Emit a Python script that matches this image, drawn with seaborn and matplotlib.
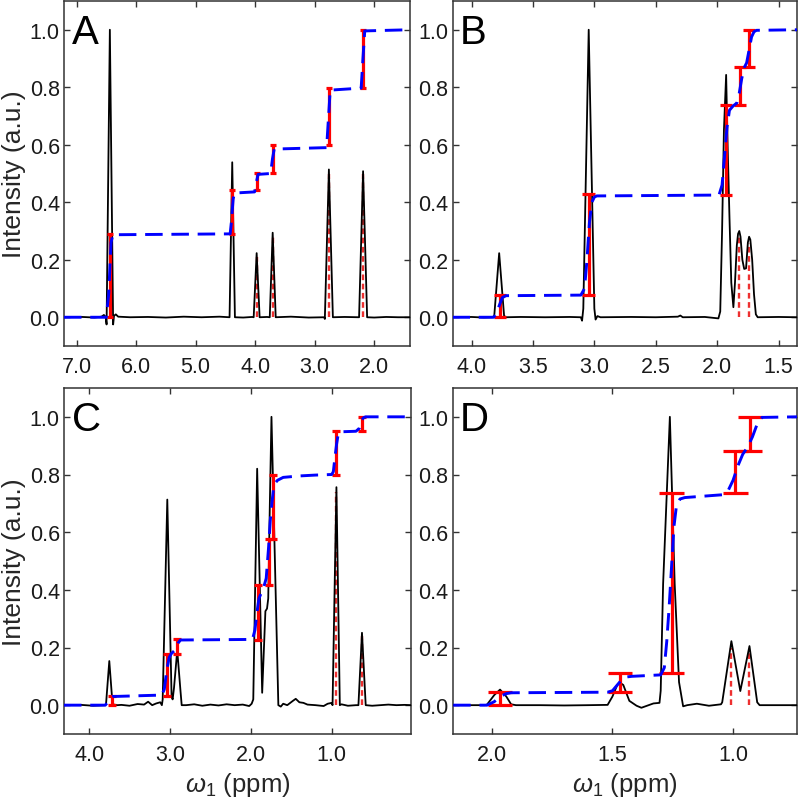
import matplotlib
matplotlib.use('Agg')
import matplotlib.pyplot as plt
from matplotlib.ticker import FormatStrFormatter
import seaborn as sns

# ==============================================================================
# Data (ppm, normalised intensity)
# ==============================================================================
# --- Panel A ---
a_spec_x = [7.21, 6.90, 6.70, 6.58, 6.54, 6.51, 6.495, 6.44, 6.385, 6.37, 6.34, 6.30, 6.10, 5.80,
            5.50, 5.20, 4.90, 4.60, 4.43, 4.385, 4.34, 4.20, 4.05, 4.025, 3.975, 3.925, 3.80, 3.755,
            3.706, 3.655, 3.40, 3.10, 2.84, 2.83, 2.762, 2.695, 2.50, 2.255, 2.188, 2.12, 2.00,
            1.80, 1.60, 1.40]
a_spec_y = [0.0, 0.001, -0.001, 0.002, 0.008, 0.0, -0.025, 1.0, -0.025, 0.005, 0.01, 0.002, 0.0,
            0.001, -0.001, 0.002, 0.0, 0.002, 0.0, 0.539, 0.0, -0.001, 0.001, 0.0, 0.223, 0.0,
            0.001, 0.0, 0.294, 0.0, 0.002, -0.001, 0.0, -0.006, 0.514, 0.0, 0.001, 0.0, 0.508,
            0.0, -0.001, 0.001, 0.0, 0.0]
a_int_x = [7.21, 6.50, 6.46, 6.42, 6.39, 4.42, 4.40, 4.37, 4.35, 4.01, 3.98, 3.95, 3.74, 3.71,
           3.68, 2.80, 2.77, 2.74, 2.22, 2.19, 2.16, 1.40]
a_int_y = [0.0, 0.0, 0.08, 0.26, 0.287, 0.29, 0.33, 0.41, 0.432, 0.436, 0.47, 0.497, 0.50, 0.55,
           0.585, 0.59, 0.69, 0.79, 0.797, 0.90, 0.996, 1.0]
a_bar_x = [6.43, 4.385, 3.975, 3.70, 2.762, 2.188]
a_bar_lo = [0.0, 0.29, 0.442, 0.502, 0.598, 0.797]
a_bar_hi = [0.291, 0.442, 0.502, 0.598, 0.797, 0.999]
a_mark_x = [3.975, 3.706, 2.762, 2.188]
a_mark_h = [0.21, 0.28, 0.50, 0.50]
a_ticks = [7.0, 6.0, 5.0, 4.0, 3.0, 2.0]

# --- Panel B ---
b_spec_x = [4.155, 4.00, 3.90, 3.83, 3.815, 3.775, 3.735, 3.72, 3.60, 3.40, 3.20, 3.11, 3.10,
            3.09, 3.046, 3.00, 2.99, 2.975, 2.95, 2.70, 2.50, 2.32, 2.30, 2.28, 2.10, 1.99, 1.975,
            1.96, 1.945, 1.927, 1.915, 1.90, 1.885, 1.868, 1.855, 1.84, 1.83, 1.82, 1.81, 1.795,
            1.78, 1.765, 1.75, 1.74, 1.73, 1.715, 1.70, 1.685, 1.67, 1.50, 1.35]
b_spec_y = [0.0, 0.001, -0.001, 0.0, 0.005, 0.223, 0.005, 0.0, 0.001, 0.0, 0.001, 0.0, -0.012,
            0.03, 1.0, 0.03, -0.008, 0.004, 0.0, 0.001, 0.0, 0.002, 0.006, 0.0, 0.001, -0.004,
            0.02, 0.3, 0.65, 0.843, 0.6, 0.35, 0.12, 0.035, 0.12, 0.25, 0.29, 0.30, 0.28, 0.2,
            0.168, 0.17, 0.26, 0.28, 0.27, 0.2, 0.08, 0.01, 0.0, 0.001, 0.0]
b_int_x = [4.155, 3.82, 3.80, 3.775, 3.75, 3.72, 3.11, 3.08, 3.06, 3.04, 3.02, 3.00, 2.98, 1.985,
           1.96, 1.94, 1.92, 1.90, 1.87, 1.84, 1.82, 1.80, 1.78, 1.76, 1.74, 1.72, 1.70, 1.68, 1.35]
b_int_y = [0.0, 0.0, 0.01, 0.04, 0.068, 0.075, 0.077, 0.10, 0.20, 0.33, 0.40, 0.418, 0.422, 0.425,
           0.46, 0.56, 0.66, 0.72, 0.735, 0.745, 0.78, 0.83, 0.868, 0.885, 0.93, 0.975, 0.993,
           0.998, 1.0]
b_bar_x = [3.77, 3.047, 1.927, 1.813, 1.74]
b_bar_lo = [0.0, 0.077, 0.426, 0.739, 0.872]
b_bar_hi = [0.077, 0.428, 0.739, 0.872, 1.0]
b_mark_x = [1.82, 1.738]
b_mark_h = [0.28, 0.26]
b_ticks = [4.0, 3.5, 3.0, 2.5, 2.0, 1.5]

# --- Panel C ---
c_spec_x = [4.31, 4.10, 3.95, 3.80, 3.79, 3.75, 3.71, 3.65, 3.60, 3.50, 3.40, 3.32, 3.27, 3.22,
            3.17, 3.12, 3.10, 3.09, 3.033, 2.98, 2.967, 2.95, 2.91, 2.87, 2.855, 2.80, 2.70, 2.60,
            2.50, 2.40, 2.30, 2.20, 2.10, 2.02, 1.99, 1.97, 1.922, 1.86, 1.82, 1.80, 1.785, 1.765,
            1.745, 1.66, 1.63, 1.60, 1.55, 1.48, 1.445, 1.40, 1.35, 1.30, 1.20, 1.10, 1.05, 1.00,
            0.99, 0.942, 0.90, 0.88, 0.80, 0.70, 0.67, 0.626, 0.58, 0.50, 0.40, 0.30, 0.20, 0.10,
            0.02]
c_spec_y = [0.0, 0.001, -0.002, 0.0, 0.005, 0.153, 0.003, 0.0, 0.001, -0.002, 0.004, 0.002, 0.012,
            0.0, 0.006, 0.01, 0.0, 0.02, 0.713, 0.03, 0.02, 0.06, 0.19, 0.05, 0.0, 0.0, 0.003,
            -0.002, 0.002, -0.001, 0.003, 0.0, 0.002, -0.003, 0.005, 0.02, 0.82, 0.043, 0.326,
            0.335, 0.37, 0.7, 1.0, 0.0, -0.005, 0.005, 0.0, 0.015, 0.022, 0.01, 0.008, 0.002, 0.0,
            -0.003, 0.005, 0.008, 0.0, 0.756, 0.0, 0.003, -0.002, 0.0, 0.0, 0.251, 0.0, -0.002,
            0.0, 0.002, 0.0, 0.001, 0.0]
c_int_x = [4.31, 3.80, 3.77, 3.74, 3.71, 3.10, 3.07, 3.04, 3.01, 2.98, 2.94, 2.90, 2.87, 1.98,
           1.95, 1.92, 1.90, 1.87, 1.84, 1.81, 1.78, 1.76, 1.74, 1.72, 1.70, 1.67, 1.60, 1.40,
           1.20, 1.00, 0.98, 0.96, 0.94, 0.92, 0.90, 0.70, 0.66, 0.63, 0.60, 0.58, 0.02]
c_int_y = [0.0, 0.0, 0.01, 0.025, 0.03, 0.035, 0.055, 0.12, 0.165, 0.18, 0.19, 0.215, 0.226,
           0.228, 0.26, 0.33, 0.37, 0.39, 0.41, 0.44, 0.55, 0.64, 0.70, 0.75, 0.77, 0.78, 0.79,
           0.795, 0.798, 0.80, 0.81, 0.86, 0.905, 0.94, 0.948, 0.95, 0.96, 0.99, 0.998, 1.0, 1.0]
c_bar_x = [3.72, 3.033, 2.91, 1.91, 1.778, 1.725, 0.95, 0.626]
c_bar_lo = [0.0, 0.032, 0.176, 0.226, 0.418, 0.578, 0.80, 0.95]
c_bar_hi = [0.032, 0.176, 0.228, 0.418, 0.578, 0.80, 0.95, 1.0]
c_mark_x = [0.942, 0.626]
c_mark_h = [0.74, 0.24]
c_ticks = [4.0, 3.0, 2.0, 1.0]

# --- Panel D ---
d_spec_x = [2.16, 2.10, 2.03, 2.02, 1.99, 1.966, 1.94, 1.92, 1.90, 1.80, 1.70, 1.60, 1.52, 1.50,
            1.48, 1.469, 1.455, 1.43, 1.40, 1.38, 1.35, 1.33, 1.305, 1.30, 1.29, 1.262, 1.242,
            1.224, 1.207, 1.19, 1.15, 1.10, 1.05, 1.045, 1.007, 0.97, 0.932, 0.90, 0.89, 0.80, 0.735]
d_spec_y = [0.0, 0.0, 0.0, 0.002, 0.035, 0.054, 0.03, 0.003, 0.0, 0.0, -0.001, 0.0, 0.001, 0.03,
            0.07, 0.078, 0.07, 0.015, -0.002, -0.009, 0.0, 0.006, 0.008, 0.05, 0.42, 1.0, 0.42,
            0.08, -0.004, 0.0, 0.005, -0.002, 0.003, 0.01, 0.222, 0.049, 0.205, 0.01, 0.0, 0.0, 0.0]
d_int_x = [2.16, 2.02, 1.99, 1.966, 1.94, 1.92, 1.52, 1.50, 1.48, 1.46, 1.44, 1.42, 1.30, 1.285,
           1.275, 1.265, 1.255, 1.245, 1.235, 1.22, 1.20, 1.04, 1.02, 1.00, 0.98, 0.96, 0.94,
           0.92, 0.90, 0.88, 0.735]
d_int_y = [0.0, 0.0, 0.012, 0.03, 0.04, 0.043, 0.045, 0.05, 0.07, 0.09, 0.098, 0.10, 0.105, 0.13,
           0.22, 0.34, 0.48, 0.62, 0.69, 0.715, 0.72, 0.73, 0.745, 0.78, 0.83, 0.87, 0.895, 0.93,
           0.975, 0.998, 1.0]
d_bar_x = [1.966, 1.469, 1.255, 0.99, 0.93]
d_bar_lo = [0.0, 0.045, 0.112, 0.736, 0.881]
d_bar_hi = [0.045, 0.11, 0.736, 0.881, 1.0]
d_mark_x = [1.007, 0.932]
d_mark_h = [0.20, 0.19]
d_ticks = [2.0, 1.5, 1.0]

# ==============================================================================
# Style
# ==============================================================================
sns.set_theme(style='ticks')
plt.rcParams['font.family'] = ['Liberation Sans', 'DejaVu Sans']
plt.rcParams['mathtext.fontset'] = 'custom'
plt.rcParams['mathtext.rm'] = 'Liberation Sans'
plt.rcParams['mathtext.it'] = 'Liberation Sans:italic'

W, H = 800, 803
SPINE = '#333333'
CAP = 0.05  # half width of error-bar caps, in ppm


def px_rect(l, t, r, b):
    return [l / W, 1 - b / H, (r - l) / W, (b - t) / H]


def draw_panel(ax, spec_x, spec_y, int_x, int_y, bar_x, bar_lo, bar_hi,
               mark_x, mark_h, xlim, ticks, letter):
    # fitted peak positions
    ax.vlines(mark_x, 0, mark_h, colors='#ee3030', lw=1.7,
              linestyles=[(0, (2.4, 1.5))], zorder=2)
    # spectrum
    sns.lineplot(x=spec_x, y=spec_y, sort=False, estimator=None, color='black',
                 lw=1.3, ax=ax, zorder=3)
    # integration error bars
    ax.vlines(bar_x, bar_lo, bar_hi, colors='red', lw=2.3, zorder=4)
    for bx, lo, hi in zip(bar_x, bar_lo, bar_hi):
        ax.hlines([lo, hi], bx - CAP, bx + CAP, colors='red', lw=2.3, zorder=4)
    # cumulative integral
    sns.lineplot(x=int_x, y=int_y, sort=False, estimator=None, color='blue',
                 lw=2.1, linestyle=(0, (6, 3)), ax=ax, zorder=5)

    ax.set_xlim(*xlim)
    ax.set_ylim(-0.1, 1.1)
    ax.set_xticks(ticks)
    ax.set_yticks([0.0, 0.2, 0.4, 0.6, 0.8, 1.0])
    ax.xaxis.set_major_formatter(FormatStrFormatter('%.1f'))
    ax.yaxis.set_major_formatter(FormatStrFormatter('%.1f'))
    ax.tick_params(direction='in', top=True, right=True, length=4, width=1.0,
                   color=SPINE, labelsize=15.5, labelcolor='#1a1a1a')
    ax.tick_params(axis='x', pad=7)
    ax.tick_params(axis='y', pad=3)
    for sp in ax.spines.values():
        sp.set_color(SPINE)
        sp.set_linewidth(1.1)
        sp.set_visible(True)
    ax.set_xlabel('')
    ax.set_ylabel('')
    ax.annotate(letter, xy=(0, 1), xycoords='axes fraction', xytext=(5.5, -8.5),
                textcoords='offset points', ha='left', va='top', fontsize=29,
                color='black')


fig = plt.figure(figsize=(W / 100, H / 100), dpi=100)
ax_a = fig.add_axes(px_rect(64, 2, 410, 347))
ax_b = fig.add_axes(px_rect(452.5, 2, 797, 347))
ax_c = fig.add_axes(px_rect(64, 389, 411, 735))
ax_d = fig.add_axes(px_rect(452.5, 389, 797, 735))

draw_panel(ax_a, a_spec_x, a_spec_y, a_int_x, a_int_y, a_bar_x, a_bar_lo, a_bar_hi,
           a_mark_x, a_mark_h, (7.21, 1.40), a_ticks, 'A')
draw_panel(ax_b, b_spec_x, b_spec_y, b_int_x, b_int_y, b_bar_x, b_bar_lo, b_bar_hi,
           b_mark_x, b_mark_h, (4.155, 1.35), b_ticks, 'B')
draw_panel(ax_c, c_spec_x, c_spec_y, c_int_x, c_int_y, c_bar_x, c_bar_lo, c_bar_hi,
           c_mark_x, c_mark_h, (4.31, 0.02), c_ticks, 'C')
draw_panel(ax_d, d_spec_x, d_spec_y, d_int_x, d_int_y, d_bar_x, d_bar_lo, d_bar_hi,
           d_mark_x, d_mark_h, (2.163, 0.735), d_ticks, 'D')

for ax in (ax_a, ax_c):
    ax.set_ylabel('Intensity (a.u.)', fontsize=19)
    ax.yaxis.set_label_coords(-0.11, 0.5)
for ax in (ax_c, ax_d):
    ax.set_xlabel(r'$\omega_1$ (ppm)', fontsize=18.5)
    ax.xaxis.set_label_coords(0.5, -0.105)

fig.savefig('out.png', dpi=100)
